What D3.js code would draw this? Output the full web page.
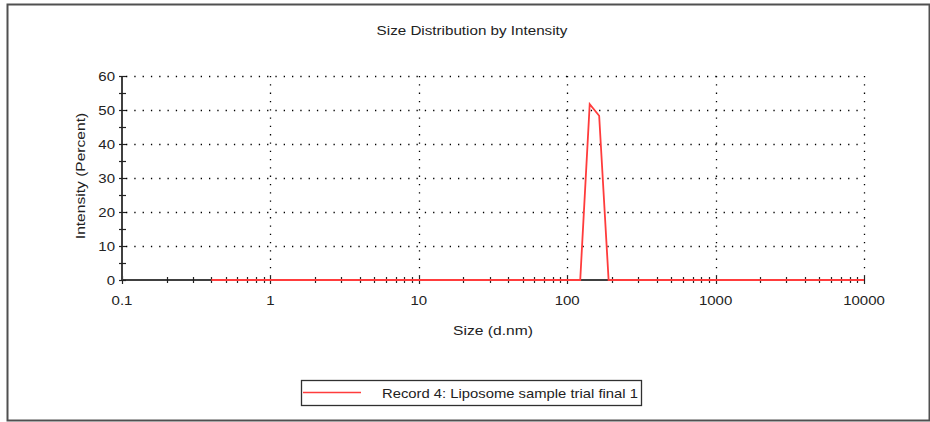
<!DOCTYPE html>
<html>
<head>
<meta charset="utf-8">
<script src="https://cdn.jsdelivr.net/npm/d3@7"></script>
<style>
html,body{margin:0;padding:0;background:#fff;}
text{font-family:Arial,"Liberation Sans",sans-serif;fill:#222;}
</style>
</head>
<body>
<svg id="chart" width="930" height="422"></svg>
<script>
const title = "Size Distribution by Intensity";
const xLabel = "Size (d.nm)";
const yLabel = "Intensity (Percent)";
const seriesName = "Record 4: Liposome sample trial final 1";
const xTickValues = [0.1, 1, 10, 100, 1000, 10000];
const xTickLabels = ["0.1", "1", "10", "100", "1000", "10000"];
const yTickValues = [0, 10, 20, 30, 40, 50, 60];
const sizes = [0.4, 0.4632, 0.5365, 0.6213, 0.7195, 0.8332, 0.9649, 1.117, 1.294, 1.499,
  1.736, 2.010, 2.328, 2.696, 3.122, 3.615, 4.187, 4.849, 5.615, 6.503,
  7.531, 8.721, 10.10, 11.70, 13.54, 15.69, 18.17, 21.04, 24.36, 28.21,
  32.67, 37.84, 43.82, 50.75, 58.77, 68.06, 78.82, 91.28, 105.7, 122.4,
  141.8, 164.2, 190.1, 220.2, 255.0, 295.3, 342.0, 396.1, 458.7, 531.2,
  615.1, 712.4, 825.0, 955.4, 1106, 1281, 1484, 1718, 1990, 2305,
  2669, 3091, 3580, 4145, 4801, 5560, 6439, 7456, 8635, 10000];
const intensity = [0, 0, 0, 0, 0, 0, 0, 0, 0, 0,
  0, 0, 0, 0, 0, 0, 0, 0, 0, 0,
  0, 0, 0, 0, 0, 0, 0, 0, 0, 0,
  0, 0, 0, 0, 0, 0, 0, 0, 0, 0,
  51.7, 48.3, 0, 0, 0, 0, 0, 0, 0, 0,
  0, 0, 0, 0, 0, 0, 0, 0, 0, 0,
  0, 0, 0, 0, 0, 0, 0, 0, 0, 0];

const svg = d3.select("#chart");
const L = 122, R = 864, T = 76, B = 280;
const x = d3.scaleLog().domain([0.1, 10000]).range([L, R]);
const y = d3.scaleLinear().domain([0, 60]).range([B, T]);
const SX = 1.25; // horizontal stretch of the original rendering

// outer frame
svg.append("rect").attr("x", 7.5).attr("y", 4.5).attr("width", 922).attr("height", 416)
  .attr("fill", "none").attr("stroke", "#505050").attr("stroke-width", 2);

// title
svg.append("text").attr("transform", "translate(472,35) scale(1.17,1)").attr("text-anchor", "middle")
  .style("font-size", "13px").text(title);

// grid
const grid = svg.append("g").attr("stroke", "#000").attr("stroke-width", 1.3)
  .attr("stroke-dasharray", "1.3 7").attr("fill", "none");
yTickValues.filter(v => v > 0).forEach(v => {
  grid.append("line").attr("x1", L + 4).attr("x2", R).attr("y1", Math.round(y(v)) + 0.5).attr("y2", Math.round(y(v)) + 0.5);
});
xTickValues.filter(v => v > 0.1).forEach(v => {
  grid.append("line").attr("x1", Math.round(x(v)) + 0.5).attr("x2", Math.round(x(v)) + 0.5).attr("y1", T).attr("y2", B - 4);
});

// x axis
const xMinor = [];
for (let d = 0.1; d < 10000; d *= 10) for (let k = 2; k <= 9; k++) xMinor.push(+(d * k).toPrecision(3));
const xAxis = svg.append("g");
xAxis.append("line").attr("x1", L).attr("x2", R + 1).attr("y1", B).attr("y2", B)
  .attr("stroke", "#404040").attr("stroke-width", 2);
xAxis.selectAll(".minor").data(xMinor).join("line")
  .attr("x1", d => Math.round(x(d)) + 0.5).attr("x2", d => Math.round(x(d)) + 0.5)
  .attr("y1", B - 3).attr("y2", B + 3).attr("stroke", "#222").attr("stroke-width", 1.2);
xAxis.selectAll(".major").data(xTickValues).join("line")
  .attr("x1", d => Math.round(x(d)) + 0.5).attr("x2", d => Math.round(x(d)) + 0.5)
  .attr("y1", B - 4).attr("y2", B + 4).attr("stroke", "#222").attr("stroke-width", 1.2);
xAxis.selectAll("text").data(xTickValues).join("text")
  .attr("transform", d => `translate(${x(d)},305) scale(${SX},1)`).attr("text-anchor", "middle")
  .style("font-size", "12px").text((d, i) => xTickLabels[i]);

// y axis
const yMinor = d3.range(5, 60, 10);
const yAxis = svg.append("g");
yAxis.append("line").attr("x1", L).attr("x2", L).attr("y1", T).attr("y2", B + 1)
  .attr("stroke", "#404040").attr("stroke-width", 2);
yAxis.selectAll(".minor").data(yMinor).join("line")
  .attr("x1", L - 3).attr("x2", L + 4).attr("y1", d => Math.round(y(d)) + 0.5).attr("y2", d => Math.round(y(d)) + 0.5)
  .attr("stroke", "#222").attr("stroke-width", 1.2);
yAxis.selectAll(".major").data(yTickValues).join("line")
  .attr("x1", L - 3).attr("x2", L + 4).attr("y1", d => Math.round(y(d)) + 0.5).attr("y2", d => Math.round(y(d)) + 0.5)
  .attr("stroke", "#222").attr("stroke-width", 1.2);
yAxis.selectAll("text").data(yTickValues).join("text")
  .attr("transform", d => `translate(115,${y(d) + 4.5}) scale(${SX},1)`).attr("text-anchor", "end")
  .style("font-size", "12px").text(d => d);

// axis labels
svg.append("text").attr("transform", `translate(493,335) scale(${SX},1)`).attr("text-anchor", "middle")
  .style("font-size", "12.5px").text(xLabel);
svg.append("text").attr("transform", "translate(85,176) rotate(-90) scale(1.3,1.05)").attr("text-anchor", "middle")
  .style("font-size", "12px").text(yLabel);

// data line
const line = d3.line().x(d => x(d[0])).y(d => y(d[1]));
svg.append("path").datum(sizes.map((s, i) => [s, intensity[i]]))
  .attr("d", line).attr("fill", "none").attr("stroke", "#ff3c3c").attr("stroke-width", 1.8);

// legend
const lg = svg.append("g");
lg.append("rect").attr("x", 301.5).attr("y", 380.5).attr("width", 340).attr("height", 25)
  .attr("fill", "#fff").attr("stroke", "#303030").attr("stroke-width", 1.3);
lg.append("line").attr("x1", 303).attr("x2", 361).attr("y1", 392.5).attr("y2", 392.5)
  .attr("stroke", "#ff3c3c").attr("stroke-width", 1.3);
lg.append("text").attr("transform", "translate(382,398) scale(1.235,1)").style("font-size", "12px").text(seriesName);
</script>
</body>
</html>
